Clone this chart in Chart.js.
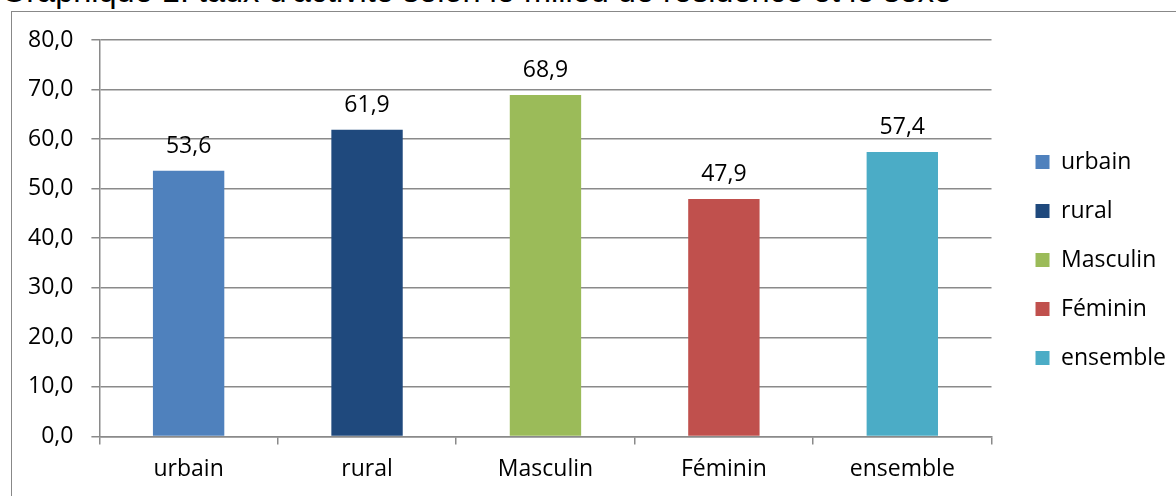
<!DOCTYPE html>
<html>
<head>
<meta charset="utf-8">
<script src="https://cdn.jsdelivr.net/npm/chart.js"></script>
<style>
  html, body { margin: 0; padding: 0; background: #fff; overflow: hidden; }
  #wrap { position: relative; width: 1176px; height: 496px; }
  #titre { position: absolute; left: 1px; top: -25px; font-family: "Liberation Sans", Arial, sans-serif; font-size: 32.5px; line-height: 33px; white-space: nowrap; color: #000; }
  #cadre { position: absolute; left: 11px; top: 11px; width: 1200px; height: 600px; border-left: 1px solid #888; border-top: 1px solid #888; pointer-events: none; }
  #myChart { position: absolute; left: 0; top: 0; }
</style>
</head>
<body>
<div id="wrap">
  <div id="titre">Graphique 1: taux d'activité selon le milieu de résidence et le sexe</div>
  <div id="cadre"></div>
  <canvas id="myChart" width="1176" height="496"></canvas>
</div>
<script>
var xValues = ["urbain", "rural", "Masculin", "Féminin", "ensemble"];
var yValues = [53.6, 61.9, 68.9, 47.9, 57.4];
var barColors = ["#4f81bd", "#1f497d", "#9bbb59", "#c0504d", "#4bacc6"];
var yMin = 0, yMax = 80, yStep = 10;

var lineGray = "#8a8a8a";
var legendGap = 18;

function fmt(v) {
  return v.toFixed(1).replace(".", ",");
}

// values written above each bar
var valueLabels = {
  id: "valueLabels",
  afterDatasetsDraw: function(chart) {
    var ctx = chart.ctx;
    var meta = chart.getDatasetMeta(0);
    ctx.save();
    ctx.font = "23px 'Open Sans'";
    ctx.fillStyle = "#000";
    ctx.textAlign = "center";
    ctx.textBaseline = "alphabetic";
    meta.data.forEach(function(bar, i) {
      ctx.fillText(fmt(yValues[i]), bar.x, bar.y - 18);
    });
    ctx.restore();
  }
};

// leave some room between the plot and the legend
var legendShift = {
  id: "legendShift",
  beforeLayout: function(chart) {
    var lg = chart.legend;
    if (lg && !lg._wrapped) {
      var fit = lg.fit;
      lg.fit = function() { fit.call(this); this.width += legendGap; };
      lg._wrapped = true;
    }
  },
  afterLayout: function(chart) {
    chart.legend.left += legendGap;
    chart.legend.top -= 7;
    chart.legend.bottom -= 7;
  }
};

Chart.defaults.font.family = "'Open Sans', sans-serif";
Chart.defaults.color = "#000";

new Chart("myChart", {
  type: "bar",
  data: {
    labels: xValues,
    datasets: [{
      backgroundColor: barColors,
      data: yValues,
      barPercentage: 0.4,
      categoryPercentage: 1.0
    }]
  },
  options: {
    responsive: false,
    animation: false,
    layout: { padding: { left: 10, right: 0, top: 40, bottom: 2 } },
    plugins: {
      title: { display: false },
      tooltip: { enabled: false },
      legend: {
        position: "right",
        labels: {
          boxWidth: 14,
          boxHeight: 14,
          padding: 26,
          font: { size: 23 },
          color: "#000",
          generateLabels: function(chart) {
            return xValues.map(function(name, i) {
              return { text: name, fillStyle: barColors[i], strokeStyle: barColors[i], lineWidth: 0, index: i };
            });
          }
        }
      }
    },
    scales: {
      x: {
        grid: { offset: true, drawOnChartArea: false, tickLength: 8, color: lineGray, lineWidth: 1.5 },
        border: { color: lineGray, width: 1.5 },
        ticks: { font: { size: 23 }, padding: 11, color: "#000" }
      },
      y: {
        min: yMin,
        max: yMax,
        grid: { tickLength: 8, color: lineGray, lineWidth: 1.5 },
        border: { color: lineGray, width: 1.5 },
        ticks: {
          stepSize: yStep,
          font: { size: 23 },
          padding: 18,
          color: "#000",
          callback: function(v) { return fmt(v); }
        }
      }
    }
  },
  plugins: [valueLabels, legendShift]
});
</script>
</body>
</html>
